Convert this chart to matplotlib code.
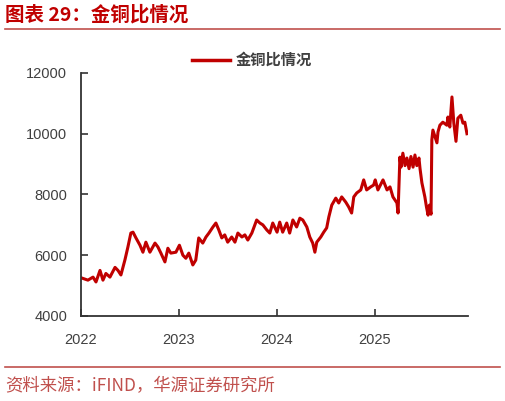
import matplotlib.pyplot as plt
import matplotlib.dates as mdates
import pandas as pd

plt.rcParams["font.family"] = ["Liberation Sans", "Noto Sans CJK SC", "DejaVu Sans"]

# gold / copper ratio
dates = [
    "2022-01-04", "2022-01-27", "2022-02-15", "2022-02-26", "2022-03-13", "2022-03-24",
    "2022-04-04", "2022-04-19", "2022-05-08", "2022-05-19", "2022-05-30", "2022-06-14",
    "2022-06-25", "2022-07-06", "2022-07-14", "2022-07-25", "2022-08-09", "2022-08-20",
    "2022-08-31", "2022-09-15", "2022-10-04", "2022-10-15", "2022-10-26", "2022-11-10",
    "2022-11-21", "2022-12-02", "2022-12-21",
    "2023-01-03", "2023-01-16", "2023-01-27", "2023-02-07", "2023-02-22", "2023-03-05",
    "2023-03-16", "2023-03-31", "2023-04-12", "2023-04-23", "2023-05-08", "2023-05-19",
    "2023-05-30", "2023-06-10", "2023-06-21", "2023-07-02", "2023-07-17", "2023-07-29",
    "2023-08-09", "2023-08-24", "2023-09-04", "2023-09-15", "2023-09-30", "2023-10-18",
    "2023-10-30", "2023-11-10", "2023-11-25", "2023-12-06", "2023-12-17",
    "2024-01-02", "2024-01-12", "2024-01-23", "2024-02-07", "2024-02-18", "2024-03-01",
    "2024-03-15", "2024-03-27", "2024-04-07", "2024-04-22", "2024-05-03", "2024-05-14",
    "2024-05-22", "2024-05-29", "2024-06-13", "2024-06-24", "2024-07-05", "2024-07-13",
    "2024-07-24", "2024-08-08", "2024-08-19", "2024-08-30", "2024-09-14", "2024-09-25",
    "2024-10-06", "2024-10-14", "2024-10-25", "2024-11-09", "2024-11-20", "2024-12-01",
    "2024-12-16", "2024-12-27",
    "2025-01-02", "2025-01-12", "2025-01-31", "2025-02-15", "2025-02-26", "2025-03-09",
    "2025-03-24", "2025-03-28", "2025-04-04", "2025-04-08", "2025-04-15", "2025-04-23",
    "2025-04-30", "2025-05-08", "2025-05-15", "2025-05-23", "2025-05-30", "2025-06-06",
    "2025-06-14", "2025-06-18", "2025-06-25", "2025-07-06", "2025-07-12", "2025-07-18",
    "2025-07-23", "2025-07-29", "2025-08-01", "2025-08-05", "2025-08-20", "2025-08-24",
    "2025-08-31", "2025-09-11", "2025-09-26", "2025-09-30", "2025-10-07", "2025-10-15",
    "2025-10-22", "2025-10-30", "2025-11-06", "2025-11-17", "2025-11-25", "2025-12-02",
    "2025-12-10",
]
ratio = [
    5250, 5180, 5280, 5120, 5500, 5180,
    5400, 5280, 5600, 5500, 5350, 5850,
    6270, 6730, 6760, 6570, 6330, 6100,
    6430, 6100, 6400, 6270, 6070, 5780,
    6230, 6070, 6100,
    6330, 6000, 5900, 6070, 5680, 5840,
    6570, 6400, 6600, 6730, 6930, 7060,
    6830, 6570, 6670, 6430, 6600, 6430,
    6730, 6600, 6670, 6500, 6730, 7160,
    7060, 7000, 6830, 6730, 7060,
    6760, 7090, 6760, 7060, 6730, 7160,
    6930, 7220, 7160, 6930, 6600, 6400,
    6100, 6430, 6600, 6760, 6900, 7260,
    7650, 7880, 7720, 7920, 7750, 7590,
    7390, 7920, 8050, 8150, 8480, 8150,
    8250, 8310,
    8480, 8150, 8480, 8150, 8250, 7920,
    7720, 7390, 9230, 8900, 9360, 8950,
    9200, 8850, 9250, 8900, 9300, 8950,
    9200, 8850, 8380, 7920, 7590, 7320,
    7650, 7350, 9800, 10120, 9700, 10060,
    10280, 10380, 10280, 10550, 10220, 11210,
    10350, 9750, 10510, 10610, 10350, 10380,
    10000,
]
year_ticks = ["2022-01-01", "2023-01-01", "2024-01-01", "2025-01-01"]
y_ticks = [4000, 6000, 8000, 10000, 12000]

red = "#c00000"
frame_red = "#c0504d"
grey = "#404040"

fig = plt.figure(figsize=(5.06, 4.01), dpi=100)
ax = fig.add_axes([0.160, 0.212, 0.765, 0.606])

x = pd.to_datetime(dates)
ax.plot(x, ratio, color=red, linewidth=2.2, label="金铜比情况")

ax.set_ylim(4000, 12000)
ax.set_yticks(y_ticks)
ax.set_xlim(pd.Timestamp("2022-01-01"), pd.Timestamp("2025-12-14"))
ax.set_xticks(pd.to_datetime(year_ticks))
ax.xaxis.set_major_formatter(mdates.DateFormatter("%Y"))

for side in ["top", "right"]:
    ax.spines[side].set_visible(False)
for side in ["left", "bottom"]:
    ax.spines[side].set_color("#333333")
    ax.spines[side].set_linewidth(1.3)
ax.tick_params(axis="both", direction="in", length=5, width=1.2, color="#333333",
               labelsize=10.5, labelcolor=grey)
ax.tick_params(axis="x", pad=12)
ax.tick_params(axis="y", pad=10)

leg = ax.legend(loc="center", bbox_to_anchor=(252 / 506, 1 - 60 / 401),
                bbox_transform=fig.transFigure, frameon=False,
                handlelength=2.5, handletextpad=0.4,
                prop={"family": ["Noto Sans CJK SC"], "weight": "bold", "size": 11})
for t in leg.get_texts():
    t.set_color(grey)
leg.get_lines()[0].set_linewidth(2.5)

fig.text(5 / 506, 1 - 15 / 401, "图表 29：金铜比情况", color=red, fontsize=14,
         fontweight="bold", family=["Noto Sans CJK SC"], va="center", ha="left")
fig.add_artist(plt.Line2D([5 / 506, 500 / 506], [1 - 29 / 401, 1 - 29 / 401],
                          color=frame_red, linewidth=1.2))
fig.add_artist(plt.Line2D([5 / 506, 500 / 506], [1 - 367 / 401, 1 - 367 / 401],
                          color=frame_red, linewidth=1.2))
fig.text(5 / 506, 1 - 386 / 401, "资料来源：iFIND，华源证券研究所", color=frame_red,
         fontsize=12.5, family=["Noto Sans CJK SC"], fontweight="light",
         va="center", ha="left")

fig.savefig("out.png", dpi=100)
